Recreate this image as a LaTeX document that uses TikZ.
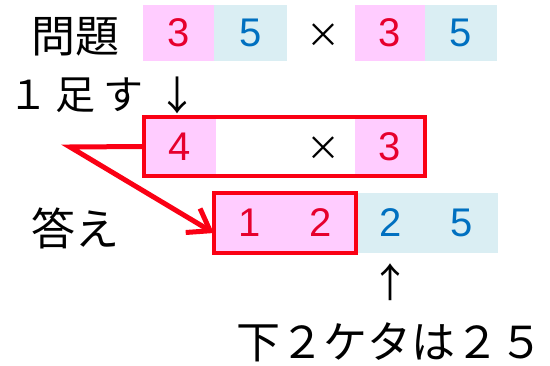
\documentclass[tikz,border=0pt]{standalone}
\usepackage{fontspec}
\setmainfont{Liberation Sans}
\newfontfamily\jfont{Noto Sans CJK JP}
\usetikzlibrary{arrows.meta}
\definecolor{cellpink}{RGB}{255,204,255}
\definecolor{cellblue}{RGB}{218,238,243}
\definecolor{digitred}{RGB}{230,0,45}
\definecolor{digitblue}{RGB}{0,112,192}
\definecolor{boxred}{RGB}{250,0,20}
\tikzset{cell/.style={minimum width=71pt,minimum height=56pt,inner sep=0pt,
   font=\fontsize{40}{40}\selectfont},
 pinkcell/.style={cell,fill=cellpink,text=digitred},
 bluecell/.style={cell,fill=cellblue,text=digitblue},
 jtext/.style={font=\jfont\fontsize{44}{44}\selectfont,inner sep=0pt},
 timesmark/.style={font=\jfont\fontsize{34}{34}\selectfont,inner sep=0pt},
 redbox/.style={draw=boxred,line width=3.5pt},
 redarrow/.style={draw=boxred,line width=5pt,-{Straight Barb[length=20pt,width=28pt]}},
 }

\begin{document}
\begin{tikzpicture}[x=1pt,y=-1pt]
        \useasboundingbox (0,0) rectangle (550,366);
        % problem
        \node[jtext] (mondai) at (75,37) {問題};
        \node[pinkcell] (t1) at (178.5,33) {3};
        \node[bluecell,minimum width=73pt] (t2) at (250.5,33) {5};
        \node[timesmark] (tx1) at (323,36) {×};
        \node[pinkcell,minimum width=70pt] (t4) at (390,33) {3};
        \node[bluecell,minimum width=72pt] (t5) at (461,33) {5};
        % add one
        \node[jtext,font=\jfont\fontsize{40}{40}\selectfont\addfontfeature{LetterSpace=18}] (tasu) at (76,95) {１足す};
        \node[jtext,font=\jfont\fontsize{40}{40}\selectfont] (down) at (177,95) {↓};
        \node[pinkcell,minimum width=72pt,minimum height=59pt] (q1) at (180,146.5) {4};
        \node[timesmark] (tx2) at (323,149) {×};
        \node[pinkcell,minimum width=70pt,minimum height=59pt] (q3) at (390,146.5) {3};
        \draw[redbox] (q1.north west) rectangle (q3.south east);
        % answer
        \node[jtext] (kotae) at (75,228) {答え};
        \node[pinkcell,minimum height=60pt] (a1) at (249.5,223) {1};
        \node[pinkcell,minimum height=60pt] (a2) at (320.5,223) {2};
        \node[bluecell,minimum height=60pt] (b1) at (391,223) {2};
        \node[bluecell,minimum height=60pt] (b2) at (462,223) {5};
        \draw[redbox] (a1.north west) rectangle (a2.south east);
        \coordinate (bend) at (70,147);
        \draw[redarrow] (q1.west) -- (bend) -- ([yshift=-10pt]a1.west);
        \node[jtext,font=\jfont\fontsize{40}{40}\selectfont] (up) at (390,282) {↑};
        \node[jtext] (shimo) at (390,342) {下２ケタは２５};
    \end{tikzpicture}
\end{document}
